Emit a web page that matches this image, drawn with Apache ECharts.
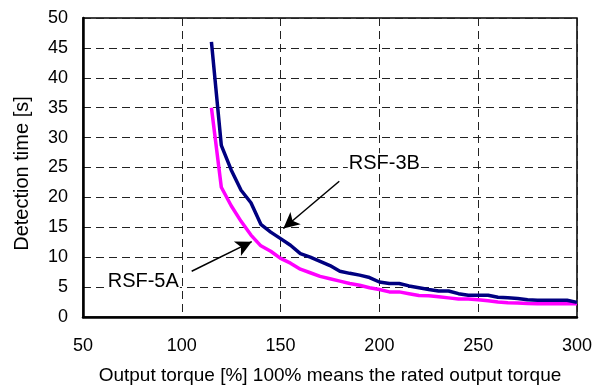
<!DOCTYPE html>
<html>
<head>
<meta charset="utf-8">
<script src="https://cdn.jsdelivr.net/npm/echarts@6/dist/echarts.min.js"></script>
<style>
  html, body { margin: 0; padding: 0; background: #fff; }
  #chart { width: 595px; height: 390px; }
</style>
</head>
<body>
<div id="chart"></div>
<script>
// output torque [%]
const torque = [115, 120, 125, 130, 135, 140, 145, 150, 155, 160, 165, 170, 175, 180, 185, 190,
  195, 200, 205, 210, 215, 220, 225, 230, 235, 240, 245, 250, 255, 260, 265, 270, 275, 280,
  285, 290, 295, 300];

// detection time [s]
const rsf3b = [46.0, 28.7, 24.6, 21.2, 19.1, 15.5, 14.2, 13.1, 12.0, 10.6, 10.0, 9.3, 8.6, 7.65,
  7.3, 7.0, 6.6, 5.85, 5.6, 5.6, 5.2, 4.9, 4.6, 4.35, 4.35, 3.9, 3.65, 3.65, 3.65, 3.3, 3.2,
  3.1, 2.9, 2.8, 2.8, 2.8, 2.8, 2.45];
const rsf5a = [35.0, 21.7, 18.6, 16.0, 13.7, 11.9, 11.0, 9.8, 9.0, 8.0, 7.4, 6.8, 6.4, 6.0,
  5.6, 5.3, 4.9, 4.6, 4.2, 4.2, 3.9, 3.6, 3.55, 3.4, 3.2, 3.0, 3.0, 2.9, 2.7, 2.5, 2.4, 2.35,
  2.25, 2.2, 2.2, 2.2, 2.2, 2.2];

// annotation text positions and arrows [from, to], in data units
const labels = [
  { name: 'RSF-3B', at: [184, 25.7] },
  { name: 'RSF-5A', at: [62, 6.0] }
];
const arrows = [
  [[179.7, 22.7], [151.4, 14.8]],
  [[105.0, 7.65], [135.4, 12.6]]
];

const FONT = '"Liberation Sans", Arial, sans-serif';

const chart = echarts.init(document.getElementById('chart'));

const dashed = { color: '#222', width: 1, type: [8, 5] };

chart.setOption({
  animation: false,
  grid: {
    left: 83, top: 18, right: 18, bottom: 68,
    show: true, borderColor: '#000', borderWidth: 1.5, backgroundColor: 'transparent'
  },
  xAxis: {
    type: 'value',
    min: 50, max: 300, interval: 50,
    name: 'Output torque [%] 100% means the rated output torque',
    nameLocation: 'middle',
    nameGap: 49,
    nameTextStyle: { color: '#000', fontSize: 19, fontFamily: FONT },
    axisLine: { show: true, lineStyle: { color: '#000', width: 2.5 } },
    axisTick: { show: false },
    axisLabel: { color: '#000', fontSize: 18, fontFamily: FONT, margin: 20 },
    splitLine: { show: true, lineStyle: dashed }
  },
  yAxis: {
    type: 'value',
    min: 0, max: 50, interval: 5,
    name: 'Detection time [s]',
    nameLocation: 'middle',
    nameGap: 51,
    nameTextStyle: { color: '#000', fontSize: 20, fontFamily: FONT, padding: [0, 12, 0, 0] },
    axisLine: { show: true, lineStyle: { color: '#000', width: 2.5 } },
    axisTick: { show: false },
    axisLabel: { color: '#000', fontSize: 18, fontFamily: FONT, margin: 15 },
    splitLine: { show: true, lineStyle: dashed }
  },
  series: [
    {
      name: 'RSF-5A',
      type: 'line',
      data: torque.map((t, i) => [t, rsf5a[i]]),
      showSymbol: false,
      lineStyle: { color: '#ff00ff', width: 3.5 },
      z: 3
    },
    {
      name: 'RSF-3B',
      type: 'line',
      data: torque.map((t, i) => [t, rsf3b[i]]),
      showSymbol: false,
      lineStyle: { color: '#000080', width: 3.5 },
      z: 4,
      markLine: {
        silent: true,
        symbol: ['none', 'arrow'],
        symbolSize: [12, 16],
        lineStyle: { color: '#000', width: 1.5, type: 'solid' },
        label: { show: false },
        data: arrows.map(a => [{ coord: a[0] }, { coord: a[1] }])
      },
      markPoint: {
        silent: true,
        symbol: 'circle',
        symbolSize: 0,
        label: {
          show: true,
          position: 'right',
          distance: 0,
          color: '#000',
          fontSize: 20,
          fontFamily: FONT,
          backgroundColor: '#fff',
          padding: [0, 1],
          formatter: p => p.name
        },
        data: labels.map(l => ({ name: l.name, coord: l.at }))
      }
    }
  ]
});
</script>
</body>
</html>
